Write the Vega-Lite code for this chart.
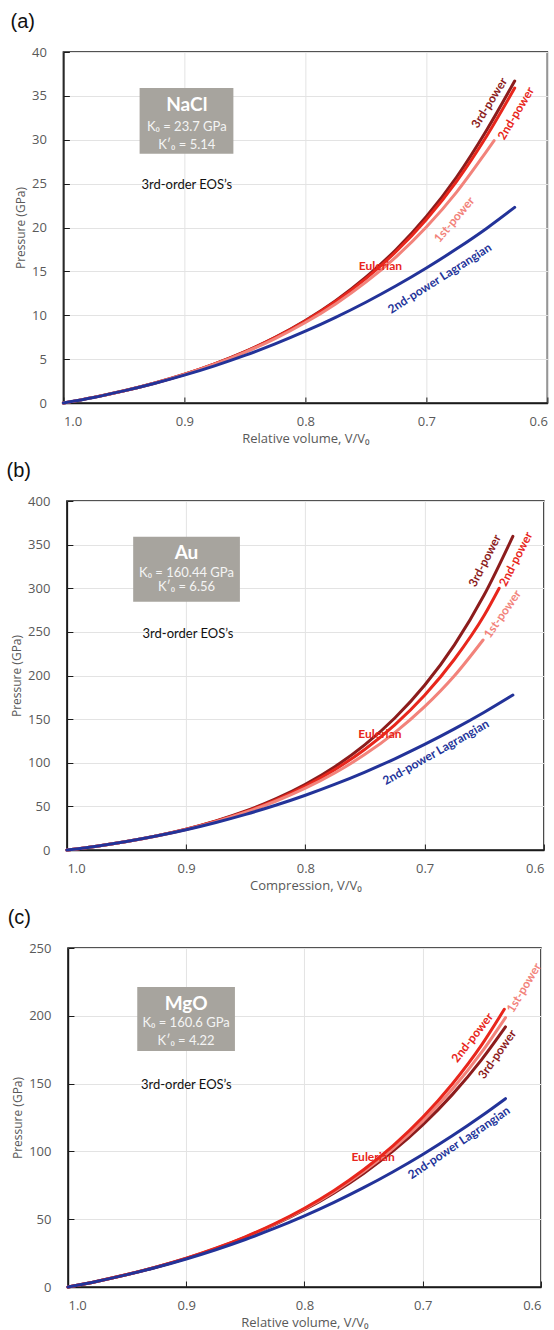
{
"$schema": "https://vega.github.io/schema/vega-lite/v6.json",
"background": "white",
"padding": {"left": 5, "top": 11, "right": 5, "bottom": 0},
"spacing": 14,
"center": true,
"datasets": {
"ca": [
{"s":"3rd-power","V":1,"P":0},{"s":"3rd-power","V":0.975,"P":0.640},{"s":"3rd-power","V":0.95,"P":1.387},{"s":"3rd-power","V":0.925,"P":2.258},{"s":"3rd-power","V":0.9,"P":3.275},{"s":"3rd-power","V":0.875,"P":4.464},{"s":"3rd-power","V":0.85,"P":5.856},{"s":"3rd-power","V":0.825,"P":7.487},{"s":"3rd-power","V":0.8,"P":9.405},{"s":"3rd-power","V":0.775,"P":11.664},{"s":"3rd-power","V":0.75,"P":14.334},{"s":"3rd-power","V":0.725,"P":17.498},{"s":"3rd-power","V":0.7,"P":21.261},{"s":"3rd-power","V":0.675,"P":25.756},{"s":"3rd-power","V":0.65,"P":31.145},{"s":"3rd-power","V":0.627,"P":36.7},
{"s":"2nd-power","V":1,"P":0},{"s":"2nd-power","V":0.975,"P":0.640},{"s":"2nd-power","V":0.95,"P":1.386},{"s":"2nd-power","V":0.925,"P":2.256},{"s":"2nd-power","V":0.9,"P":3.269},{"s":"2nd-power","V":0.875,"P":4.452},{"s":"2nd-power","V":0.85,"P":5.833},{"s":"2nd-power","V":0.825,"P":7.446},{"s":"2nd-power","V":0.8,"P":9.337},{"s":"2nd-power","V":0.775,"P":11.558},{"s":"2nd-power","V":0.75,"P":14.17},{"s":"2nd-power","V":0.725,"P":17.26},{"s":"2nd-power","V":0.7,"P":20.92},{"s":"2nd-power","V":0.675,"P":25.27},{"s":"2nd-power","V":0.65,"P":30.46},{"s":"2nd-power","V":0.627,"P":35.9},
{"s":"1st-power","V":1,"P":0},{"s":"1st-power","V":0.975,"P":0.640},{"s":"1st-power","V":0.95,"P":1.385},{"s":"1st-power","V":0.925,"P":2.250},{"s":"1st-power","V":0.9,"P":3.254},{"s":"1st-power","V":0.875,"P":4.420},{"s":"1st-power","V":0.85,"P":5.773},{"s":"1st-power","V":0.825,"P":7.343},{"s":"1st-power","V":0.8,"P":9.168},{"s":"1st-power","V":0.775,"P":11.291},{"s":"1st-power","V":0.75,"P":13.769},{"s":"1st-power","V":0.725,"P":16.663},{"s":"1st-power","V":0.7,"P":20.053},{"s":"1st-power","V":0.675,"P":24.038},{"s":"1st-power","V":0.65,"P":28.737},{"s":"1st-power","V":0.644,"P":29.9},
{"s":"2nd-power Lagrangian","V":1,"P":0},{"s":"2nd-power Lagrangian","V":0.975,"P":0.630},{"s":"2nd-power Lagrangian","V":0.95,"P":1.378},{"s":"2nd-power Lagrangian","V":0.925,"P":2.219},{"s":"2nd-power Lagrangian","V":0.9,"P":3.170},{"s":"2nd-power Lagrangian","V":0.875,"P":4.235},{"s":"2nd-power Lagrangian","V":0.85,"P":5.422},{"s":"2nd-power Lagrangian","V":0.825,"P":6.734},{"s":"2nd-power Lagrangian","V":0.8,"P":8.178},{"s":"2nd-power Lagrangian","V":0.775,"P":9.760},{"s":"2nd-power Lagrangian","V":0.75,"P":11.484},{"s":"2nd-power Lagrangian","V":0.725,"P":13.357},{"s":"2nd-power Lagrangian","V":0.7,"P":15.385},{"s":"2nd-power Lagrangian","V":0.675,"P":17.571},{"s":"2nd-power Lagrangian","V":0.65,"P":19.924},{"s":"2nd-power Lagrangian","V":0.627,"P":22.3}
],
"cb": [
{"s":"3rd-power","V":1,"P":0},{"s":"3rd-power","V":0.975,"P":4.415},{"s":"3rd-power","V":0.95,"P":9.745},{"s":"3rd-power","V":0.925,"P":16.18},{"s":"3rd-power","V":0.9,"P":23.96},{"s":"3rd-power","V":0.875,"P":33.36},{"s":"3rd-power","V":0.85,"P":44.75},{"s":"3rd-power","V":0.825,"P":58.55},{"s":"3rd-power","V":0.8,"P":75.33},{"s":"3rd-power","V":0.775,"P":95.75},{"s":"3rd-power","V":0.75,"P":120.70},{"s":"3rd-power","V":0.725,"P":151.26},{"s":"3rd-power","V":0.7,"P":188.80},{"s":"3rd-power","V":0.675,"P":235.15},{"s":"3rd-power","V":0.65,"P":292.55},{"s":"3rd-power","V":0.626,"P":359.5},
{"s":"2nd-power","V":1,"P":0},{"s":"2nd-power","V":0.975,"P":4.413},{"s":"2nd-power","V":0.95,"P":9.728},{"s":"2nd-power","V":0.925,"P":16.118},{"s":"2nd-power","V":0.9,"P":23.789},{"s":"2nd-power","V":0.875,"P":32.994},{"s":"2nd-power","V":0.85,"P":44.039},{"s":"2nd-power","V":0.825,"P":57.300},{"s":"2nd-power","V":0.8,"P":73.235},{"s":"2nd-power","V":0.775,"P":92.408},{"s":"2nd-power","V":0.75,"P":115.54},{"s":"2nd-power","V":0.725,"P":143.50},{"s":"2nd-power","V":0.7,"P":177.39},{"s":"2nd-power","V":0.675,"P":218.64},{"s":"2nd-power","V":0.65,"P":268.99},{"s":"2nd-power","V":0.6375,"P":300.0},
{"s":"1st-power","V":1,"P":0},{"s":"1st-power","V":0.975,"P":4.411},{"s":"1st-power","V":0.95,"P":9.708},{"s":"1st-power","V":0.925,"P":16.04},{"s":"1st-power","V":0.9,"P":23.59},{"s":"1st-power","V":0.875,"P":32.57},{"s":"1st-power","V":0.85,"P":43.23},{"s":"1st-power","V":0.825,"P":55.86},{"s":"1st-power","V":0.8,"P":70.83},{"s":"1st-power","V":0.775,"P":88.57},{"s":"1st-power","V":0.75,"P":109.61},{"s":"1st-power","V":0.725,"P":134.59},{"s":"1st-power","V":0.7,"P":164.28},{"s":"1st-power","V":0.675,"P":199.68},{"s":"1st-power","V":0.651,"P":240.7},
{"s":"2nd-power Lagrangian","V":1,"P":0},{"s":"2nd-power Lagrangian","V":0.975,"P":4.40},{"s":"2nd-power Lagrangian","V":0.95,"P":9.70},{"s":"2nd-power Lagrangian","V":0.925,"P":15.95},{"s":"2nd-power Lagrangian","V":0.9,"P":23.20},{"s":"2nd-power Lagrangian","V":0.875,"P":31.55},{"s":"2nd-power Lagrangian","V":0.85,"P":40.86},{"s":"2nd-power Lagrangian","V":0.825,"P":51.26},{"s":"2nd-power Lagrangian","V":0.8,"P":62.79},{"s":"2nd-power Lagrangian","V":0.775,"P":75.48},{"s":"2nd-power Lagrangian","V":0.75,"P":89.39},{"s":"2nd-power Lagrangian","V":0.725,"P":104.55},{"s":"2nd-power Lagrangian","V":0.7,"P":120.99},{"s":"2nd-power Lagrangian","V":0.675,"P":138.76},{"s":"2nd-power Lagrangian","V":0.65,"P":157.90},{"s":"2nd-power Lagrangian","V":0.626,"P":177.6}
],
"cc": [
{"s":"3rd-power","V":1,"P":0},{"s":"3rd-power","V":0.975,"P":4.288},{"s":"3rd-power","V":0.95,"P":9.174},{"s":"3rd-power","V":0.925,"P":14.743},{"s":"3rd-power","V":0.9,"P":21.091},{"s":"3rd-power","V":0.875,"P":28.336},{"s":"3rd-power","V":0.85,"P":36.613},{"s":"3rd-power","V":0.825,"P":46.084},{"s":"3rd-power","V":0.8,"P":56.941},{"s":"3rd-power","V":0.775,"P":69.410},{"s":"3rd-power","V":0.75,"P":83.770},{"s":"3rd-power","V":0.725,"P":100.35},{"s":"3rd-power","V":0.7,"P":119.55},{"s":"3rd-power","V":0.675,"P":141.87},{"s":"3rd-power","V":0.65,"P":167.89},{"s":"3rd-power","V":0.63,"P":191.8},
{"s":"1st-power","V":1,"P":0},{"s":"1st-power","V":0.975,"P":4.289},{"s":"1st-power","V":0.95,"P":9.180},{"s":"1st-power","V":0.925,"P":14.764},{"s":"1st-power","V":0.9,"P":21.145},{"s":"1st-power","V":0.875,"P":28.450},{"s":"1st-power","V":0.85,"P":36.825},{"s":"1st-power","V":0.825,"P":46.448},{"s":"1st-power","V":0.8,"P":57.530},{"s":"1st-power","V":0.775,"P":70.320},{"s":"1st-power","V":0.75,"P":85.130},{"s":"1st-power","V":0.725,"P":102.33},{"s":"1st-power","V":0.7,"P":122.37},{"s":"1st-power","V":0.675,"P":145.81},{"s":"1st-power","V":0.65,"P":173.33},{"s":"1st-power","V":0.63,"P":198.7},
{"s":"2nd-power","V":1,"P":0},{"s":"2nd-power","V":0.975,"P":4.290},{"s":"2nd-power","V":0.95,"P":9.186},{"s":"2nd-power","V":0.925,"P":14.785},{"s":"2nd-power","V":0.9,"P":21.199},{"s":"2nd-power","V":0.875,"P":28.564},{"s":"2nd-power","V":0.85,"P":37.037},{"s":"2nd-power","V":0.825,"P":46.812},{"s":"2nd-power","V":0.8,"P":58.119},{"s":"2nd-power","V":0.775,"P":71.230},{"s":"2nd-power","V":0.75,"P":86.490},{"s":"2nd-power","V":0.725,"P":104.31},{"s":"2nd-power","V":0.7,"P":125.19},{"s":"2nd-power","V":0.675,"P":149.75},{"s":"2nd-power","V":0.65,"P":178.76},{"s":"2nd-power","V":0.631,"P":204.8},
{"s":"2nd-power Lagrangian","V":1,"P":0},{"s":"2nd-power Lagrangian","V":0.975,"P":4.27},{"s":"2nd-power Lagrangian","V":0.95,"P":9.10},{"s":"2nd-power Lagrangian","V":0.925,"P":14.55},{"s":"2nd-power Lagrangian","V":0.9,"P":20.68},{"s":"2nd-power Lagrangian","V":0.875,"P":27.50},{"s":"2nd-power Lagrangian","V":0.85,"P":35.05},{"s":"2nd-power Lagrangian","V":0.825,"P":43.34},{"s":"2nd-power Lagrangian","V":0.8,"P":52.45},{"s":"2nd-power Lagrangian","V":0.775,"P":62.40},{"s":"2nd-power Lagrangian","V":0.75,"P":73.24},{"s":"2nd-power Lagrangian","V":0.725,"P":85.01},{"s":"2nd-power Lagrangian","V":0.7,"P":97.75},{"s":"2nd-power Lagrangian","V":0.675,"P":111.50},{"s":"2nd-power Lagrangian","V":0.65,"P":126.29},{"s":"2nd-power Lagrangian","V":0.63,"P":138.9}
],
"ba": [{"V1":0.937,"V2":0.8595,"P1":35.9,"P2":28.4}],
"bb": [{"V1":0.9444,"V2":0.8549,"P1":359.1,"P2":284.6}],
"bc": [{"V1":0.9414,"V2":0.8588,"P1":221.2,"P2":174.0}],
"ta": [{"t":"NaCl","r":"h","V":0.898,"P":34.0},{"t":"K₀ = 23.7 GPa","r":"p","V":0.898,"P":31.5},{"t":"K′₀ = 5.14","r":"p","V":0.898,"P":29.4},{"t":"3rd-order EOS’s","r":"n","V":0.898,"P":24.8}],
"tb": [{"t":"Au","r":"h","V":0.8997,"P":340.4},{"t":"K₀ = 160.44 GPa","r":"p","V":0.8997,"P":317.5},{"t":"K′₀ = 6.56","r":"p","V":0.8997,"P":301.8},{"t":"3rd-order EOS’s","r":"n","V":0.8985,"P":247.6}],
"tc": [{"t":"MgO","r":"h","V":0.9001,"P":208.9},{"t":"K₀ = 160.6 GPa","r":"p","V":0.9001,"P":194.7},{"t":"K′₀ = 4.22","r":"p","V":0.9001,"P":181.4},{"t":"3rd-order EOS’s","r":"n","V":0.8999,"P":149.0}],
"la": [{"s":"3rd-power","V":0.648,"P":34.2},{"s":"2nd-power","V":0.626,"P":33.0},{"s":"1st-power","V":0.677,"P":20.9},{"s":"Eulerian","V":0.738,"P":15.6},{"s":"2nd-power Lagrangian","V":0.689,"P":14.2}],
"lb": [{"s":"3rd-power","V":0.6495,"P":331.6},{"s":"2nd-power","V":0.6235,"P":333.5},{"s":"1st-power","V":0.6347,"P":270.5},{"s":"Eulerian","V":0.7375,"P":133},{"s":"2nd-power Lagrangian","V":0.6906,"P":112}],
"lc": [{"s":"1st-power","V":0.6144,"P":220.7},{"s":"2nd-power","V":0.658,"P":183.9},{"s":"3rd-power","V":0.637,"P":171.6},{"s":"Eulerian","V":0.742,"P":96.1},{"s":"2nd-power Lagrangian","V":0.6693,"P":106.4}]
},
"vconcat": [
{
"width": 484, "height": 351,
"title": {"text": "(a)"},
"layer": [
{"data": {"name": "ba"}, "mark": {"type": "rect", "color": "#a7a49e"},
 "encoding": {"x": {"field": "V1", "type": "quantitative", "scale": {"domain": [0.6, 1], "reverse": true, "nice": false}, "axis": {"title": "Relative volume, V/V₀", "values": [1, 0.9, 0.8, 0.7, 0.6], "format": ".1f"}}, "x2": {"field": "V2"},
  "y": {"field": "P1", "type": "quantitative", "scale": {"domain": [0, 40], "nice": false}, "axis": {"title": "Pressure (GPa)", "values": [0, 5, 10, 15, 20, 25, 30, 35, 40]}}, "y2": {"field": "P2"}}},
{"data": {"name": "ca"}, "mark": {"type": "line", "strokeWidth": 3, "strokeCap": "round", "interpolate": "monotone"},
 "encoding": {"x": {"field": "V", "type": "quantitative"}, "y": {"field": "P", "type": "quantitative"},
  "color": {"field": "s", "type": "nominal", "scale": {"domain": ["3rd-power", "2nd-power", "1st-power", "Eulerian", "2nd-power Lagrangian"], "range": ["#8c1c1c", "#e8261c", "#f2837b", "#e8261c", "#233399"]}, "legend": null}}},
{"data": {"name": "la"}, "transform": [{"filter": "datum.s === '3rd-power'"}], "mark": {"type": "text", "font": "Lato", "fontWeight": "bold", "fontSize": 12, "angle": 302},
 "encoding": {"x": {"field": "V", "type": "quantitative"}, "y": {"field": "P", "type": "quantitative"}, "text": {"field": "s"}, "color": {"field": "s", "type": "nominal", "legend": null}}},
{"data": {"name": "la"}, "transform": [{"filter": "datum.s === '2nd-power'"}], "mark": {"type": "text", "font": "Lato", "fontWeight": "bold", "fontSize": 12, "angle": 301},
 "encoding": {"x": {"field": "V", "type": "quantitative"}, "y": {"field": "P", "type": "quantitative"}, "text": {"field": "s"}, "color": {"field": "s", "type": "nominal", "legend": null}}},
{"data": {"name": "la"}, "transform": [{"filter": "datum.s === '1st-power'"}], "mark": {"type": "text", "font": "Lato", "fontWeight": "bold", "fontSize": 12, "angle": 310},
 "encoding": {"x": {"field": "V", "type": "quantitative"}, "y": {"field": "P", "type": "quantitative"}, "text": {"field": "s"}, "color": {"field": "s", "type": "nominal", "legend": null}}},
{"data": {"name": "la"}, "transform": [{"filter": "datum.s === 'Eulerian'"}], "mark": {"type": "text", "font": "Lato", "fontWeight": "bold", "fontSize": 12, "angle": 0},
 "encoding": {"x": {"field": "V", "type": "quantitative"}, "y": {"field": "P", "type": "quantitative"}, "text": {"field": "s"}, "color": {"field": "s", "type": "nominal", "legend": null}}},
{"data": {"name": "la"}, "transform": [{"filter": "datum.s === '2nd-power Lagrangian'"}], "mark": {"type": "text", "font": "Lato", "fontWeight": "bold", "fontSize": 12, "angle": 327.6},
 "encoding": {"x": {"field": "V", "type": "quantitative"}, "y": {"field": "P", "type": "quantitative"}, "text": {"field": "s"}, "color": {"field": "s", "type": "nominal", "legend": null}}},
{"data": {"name": "ta"}, "transform": [{"filter": "datum.r === 'h'"}], "mark": {"type": "text", "font": "Lato", "fontWeight": "bold", "fontSize": 19, "color": "white"},
 "encoding": {"x": {"field": "V", "type": "quantitative"}, "y": {"field": "P", "type": "quantitative"}, "text": {"field": "t"}}},
{"data": {"name": "ta"}, "transform": [{"filter": "datum.r === 'p'"}], "mark": {"type": "text", "font": "Lato", "fontSize": 13, "color": "#f4f4f4"},
 "encoding": {"x": {"field": "V", "type": "quantitative"}, "y": {"field": "P", "type": "quantitative"}, "text": {"field": "t"}}},
{"data": {"name": "ta"}, "transform": [{"filter": "datum.r === 'n'"}], "mark": {"type": "text", "font": "Lato", "fontSize": 13, "color": "#111"},
 "encoding": {"x": {"field": "V", "type": "quantitative"}, "y": {"field": "P", "type": "quantitative"}, "text": {"field": "t"}}}
]
},
{
"width": 477, "height": 349,
"title": {"text": "(b)"},
"layer": [
{"data": {"name": "bb"}, "mark": {"type": "rect", "color": "#a7a49e"},
 "encoding": {"x": {"field": "V1", "type": "quantitative", "scale": {"domain": [0.6, 1], "reverse": true, "nice": false}, "axis": {"title": "Compression, V/V₀", "values": [1, 0.9, 0.8, 0.7, 0.6], "format": ".1f"}}, "x2": {"field": "V2"},
  "y": {"field": "P1", "type": "quantitative", "scale": {"domain": [0, 400], "nice": false}, "axis": {"title": "Pressure (GPa)", "values": [0, 50, 100, 150, 200, 250, 300, 350, 400]}}, "y2": {"field": "P2"}}},
{"data": {"name": "cb"}, "mark": {"type": "line", "strokeWidth": 3, "strokeCap": "round", "interpolate": "monotone"},
 "encoding": {"x": {"field": "V", "type": "quantitative"}, "y": {"field": "P", "type": "quantitative"},
  "color": {"field": "s", "type": "nominal", "scale": {"domain": ["3rd-power", "2nd-power", "1st-power", "Eulerian", "2nd-power Lagrangian"], "range": ["#8c1c1c", "#e8261c", "#f2837b", "#e8261c", "#233399"]}, "legend": null}}},
{"data": {"name": "lb"}, "transform": [{"filter": "datum.s === '3rd-power'"}], "mark": {"type": "text", "font": "Lato", "fontWeight": "bold", "fontSize": 12, "angle": 297},
 "encoding": {"x": {"field": "V", "type": "quantitative"}, "y": {"field": "P", "type": "quantitative"}, "text": {"field": "s"}, "color": {"field": "s", "type": "nominal", "legend": null}}},
{"data": {"name": "lb"}, "transform": [{"filter": "datum.s === '2nd-power'"}], "mark": {"type": "text", "font": "Lato", "fontWeight": "bold", "fontSize": 12, "angle": 297},
 "encoding": {"x": {"field": "V", "type": "quantitative"}, "y": {"field": "P", "type": "quantitative"}, "text": {"field": "s"}, "color": {"field": "s", "type": "nominal", "legend": null}}},
{"data": {"name": "lb"}, "transform": [{"filter": "datum.s === '1st-power'"}], "mark": {"type": "text", "font": "Lato", "fontWeight": "bold", "fontSize": 12, "angle": 305},
 "encoding": {"x": {"field": "V", "type": "quantitative"}, "y": {"field": "P", "type": "quantitative"}, "text": {"field": "s"}, "color": {"field": "s", "type": "nominal", "legend": null}}},
{"data": {"name": "lb"}, "transform": [{"filter": "datum.s === 'Eulerian'"}], "mark": {"type": "text", "font": "Lato", "fontWeight": "bold", "fontSize": 12, "angle": 0},
 "encoding": {"x": {"field": "V", "type": "quantitative"}, "y": {"field": "P", "type": "quantitative"}, "text": {"field": "s"}, "color": {"field": "s", "type": "nominal", "legend": null}}},
{"data": {"name": "lb"}, "transform": [{"filter": "datum.s === '2nd-power Lagrangian'"}], "mark": {"type": "text", "font": "Lato", "fontWeight": "bold", "fontSize": 12, "angle": 330.4},
 "encoding": {"x": {"field": "V", "type": "quantitative"}, "y": {"field": "P", "type": "quantitative"}, "text": {"field": "s"}, "color": {"field": "s", "type": "nominal", "legend": null}}},
{"data": {"name": "tb"}, "transform": [{"filter": "datum.r === 'h'"}], "mark": {"type": "text", "font": "Lato", "fontWeight": "bold", "fontSize": 19, "color": "white"},
 "encoding": {"x": {"field": "V", "type": "quantitative"}, "y": {"field": "P", "type": "quantitative"}, "text": {"field": "t"}}},
{"data": {"name": "tb"}, "transform": [{"filter": "datum.r === 'p'"}], "mark": {"type": "text", "font": "Lato", "fontSize": 13, "color": "#f4f4f4"},
 "encoding": {"x": {"field": "V", "type": "quantitative"}, "y": {"field": "P", "type": "quantitative"}, "text": {"field": "t"}}},
{"data": {"name": "tb"}, "transform": [{"filter": "datum.r === 'n'"}], "mark": {"type": "text", "font": "Lato", "fontSize": 13, "color": "#111"},
 "encoding": {"x": {"field": "V", "type": "quantitative"}, "y": {"field": "P", "type": "quantitative"}, "text": {"field": "t"}}}
]
},
{
"width": 473, "height": 339,
"title": {"text": "(c)"},
"layer": [
{"data": {"name": "bc"}, "mark": {"type": "rect", "color": "#a7a49e"},
 "encoding": {"x": {"field": "V1", "type": "quantitative", "scale": {"domain": [0.6, 1], "reverse": true, "nice": false}, "axis": {"title": "Relative volume, V/V₀", "values": [1, 0.9, 0.8, 0.7, 0.6], "format": ".1f"}}, "x2": {"field": "V2"},
  "y": {"field": "P1", "type": "quantitative", "scale": {"domain": [0, 250], "nice": false}, "axis": {"title": "Pressure (GPa)", "values": [0, 50, 100, 150, 200, 250]}}, "y2": {"field": "P2"}}},
{"data": {"name": "cc"}, "mark": {"type": "line", "strokeWidth": 3, "strokeCap": "round", "interpolate": "monotone"},
 "encoding": {"x": {"field": "V", "type": "quantitative"}, "y": {"field": "P", "type": "quantitative"},
  "color": {"field": "s", "type": "nominal", "scale": {"domain": ["3rd-power", "2nd-power", "1st-power", "Eulerian", "2nd-power Lagrangian"], "range": ["#8c1c1c", "#e8261c", "#f2837b", "#e8261c", "#233399"]}, "legend": null}}},
{"data": {"name": "lc"}, "transform": [{"filter": "datum.s === '3rd-power'"}], "mark": {"type": "text", "font": "Lato", "fontWeight": "bold", "fontSize": 12, "angle": 305},
 "encoding": {"x": {"field": "V", "type": "quantitative"}, "y": {"field": "P", "type": "quantitative"}, "text": {"field": "s"}, "color": {"field": "s", "type": "nominal", "legend": null}}},
{"data": {"name": "lc"}, "transform": [{"filter": "datum.s === '2nd-power'"}], "mark": {"type": "text", "font": "Lato", "fontWeight": "bold", "fontSize": 12, "angle": 308},
 "encoding": {"x": {"field": "V", "type": "quantitative"}, "y": {"field": "P", "type": "quantitative"}, "text": {"field": "s"}, "color": {"field": "s", "type": "nominal", "legend": null}}},
{"data": {"name": "lc"}, "transform": [{"filter": "datum.s === '1st-power'"}], "mark": {"type": "text", "font": "Lato", "fontWeight": "bold", "fontSize": 12, "angle": 301},
 "encoding": {"x": {"field": "V", "type": "quantitative"}, "y": {"field": "P", "type": "quantitative"}, "text": {"field": "s"}, "color": {"field": "s", "type": "nominal", "legend": null}}},
{"data": {"name": "lc"}, "transform": [{"filter": "datum.s === 'Eulerian'"}], "mark": {"type": "text", "font": "Lato", "fontWeight": "bold", "fontSize": 12, "angle": 0},
 "encoding": {"x": {"field": "V", "type": "quantitative"}, "y": {"field": "P", "type": "quantitative"}, "text": {"field": "s"}, "color": {"field": "s", "type": "nominal", "legend": null}}},
{"data": {"name": "lc"}, "transform": [{"filter": "datum.s === '2nd-power Lagrangian'"}], "mark": {"type": "text", "font": "Lato", "fontWeight": "bold", "fontSize": 12, "angle": 326},
 "encoding": {"x": {"field": "V", "type": "quantitative"}, "y": {"field": "P", "type": "quantitative"}, "text": {"field": "s"}, "color": {"field": "s", "type": "nominal", "legend": null}}},
{"data": {"name": "tc"}, "transform": [{"filter": "datum.r === 'h'"}], "mark": {"type": "text", "font": "Lato", "fontWeight": "bold", "fontSize": 19, "color": "white"},
 "encoding": {"x": {"field": "V", "type": "quantitative"}, "y": {"field": "P", "type": "quantitative"}, "text": {"field": "t"}}},
{"data": {"name": "tc"}, "transform": [{"filter": "datum.r === 'p'"}], "mark": {"type": "text", "font": "Lato", "fontSize": 13, "color": "#f4f4f4"},
 "encoding": {"x": {"field": "V", "type": "quantitative"}, "y": {"field": "P", "type": "quantitative"}, "text": {"field": "t"}}},
{"data": {"name": "tc"}, "transform": [{"filter": "datum.r === 'n'"}], "mark": {"type": "text", "font": "Lato", "fontSize": 13, "color": "#111"},
 "encoding": {"x": {"field": "V", "type": "quantitative"}, "y": {"field": "P", "type": "quantitative"}, "text": {"field": "t"}}}
]
}
],
"config": {
 "view": {"stroke": "#1a1a1a", "strokeWidth": 1.5},
 "axis": {"labelFont": "Open Sans", "labelFontSize": 13, "labelColor": "#595959", "titleFont": "Open Sans", "titleFontSize": 13, "titleFontWeight": "normal", "titleColor": "#595959", "gridColor": "#e3e3e3", "domainColor": "#1a1a1a", "domainWidth": 1.5, "tickColor": "#1a1a1a", "tickSize": -6},
 "axisX": {"labelPadding": 18, "titlePadding": 4},
 "axisY": {"labelPadding": 23, "titlePadding": 4, "titleFontSize": 12},
 "title": {"font": "Liberation Sans", "fontSize": 20, "fontWeight": "normal", "color": "#111", "anchor": "start", "frame": "bounds", "offset": 14, "dx": -4}
}
}
